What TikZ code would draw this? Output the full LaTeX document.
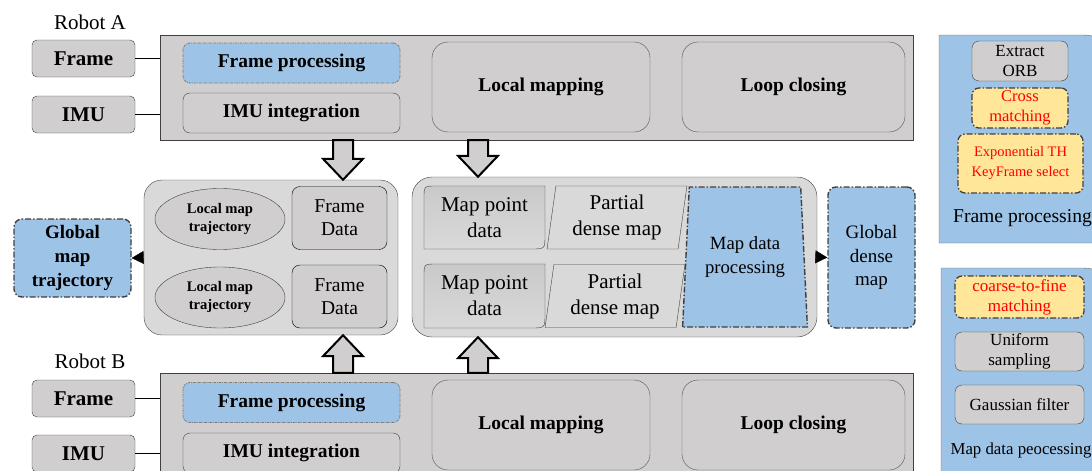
\documentclass[tikz,border=0pt]{standalone}
\usepackage{fontspec}
\setmainfont{Liberation Serif}
\usepackage{xcolor}
\usetikzlibrary{shapes.geometric, arrows.meta, positioning, calc}

\definecolor{boxgray}{HTML}{D0CECE}
\definecolor{panelgray}{HTML}{D9D9D9}
\definecolor{procblue}{HTML}{9DC3E6}
\definecolor{hiyellow}{HTML}{FFE699}
\definecolor{edgegray}{HTML}{404040}
\newcommand{\setsz}[2]{\fontsize{#1}{#2}\selectfont}

\begin{document}
\begin{tikzpicture}[
    x=1pt, y=-1pt,
    input/.style={rectangle, draw=edgegray, fill=boxgray, rounded corners=5pt, minimum width=103, minimum height=37, font=\setsz{21}{24}\bfseries},
    robot/.style={rectangle, draw=edgegray, fill=boxgray, minimum width=753, minimum height=105},
    task/.style={rectangle, draw=edgegray, fill=boxgray, rounded corners=7pt, minimum width=217, minimum height=40, font=\setsz{19.5}{22}\bfseries},
    fproc/.style={task, fill=procblue, draw=edgegray!70, line width=0.8pt, dash pattern=on 2.5pt off 1pt on 0.7pt off 1pt},
    thread/.style={rectangle, draw=edgegray!90, fill=boxgray, rounded corners=16pt, minimum height=90, font=\setsz{19.5}{22}\bfseries},
    holder/.style={rectangle, draw=edgegray, fill=panelgray, rounded corners=18pt},
    traj/.style={ellipse, draw=edgegray, fill=boxgray, minimum width=130, minimum height=61, inner sep=0pt, align=center, font=\setsz{14.6}{18}\bfseries},
    fdata/.style={rectangle, draw=black, fill=boxgray, rounded corners=8pt, minimum width=95, minimum height=63, align=center, font=\setsz{19.6}{23}},
    dashdot/.style={dash pattern=on 6pt off 2pt on 1.5pt off 2pt},
    global/.style={rectangle, draw=edgegray, fill=procblue, rounded corners=8pt, line width=1.4pt, dashdot, align=center, inner sep=1pt},
    mpcard/.style={draw=edgegray, top color=gray!42, bottom color=gray!30},
    dense/.style={trapezium, trapezium left angle=82, trapezium right angle=98, trapezium stretches=true, draw=edgegray, fill=panelgray, minimum width=140, minimum height=63, inner sep=1pt, align=center, font=\setsz{21}{26}},
    step2/.style={rectangle, draw=edgegray, fill=boxgray, rounded corners=7pt, inner sep=1pt, align=center, font=\setsz{17}{20}},
    newstep/.style={step2, fill=hiyellow, line width=1.3pt, dashdot, text=red},
    panel/.style={draw=edgegray!80, fill=procblue},
    wire/.style={draw=black, line width=1.2pt},
    tri/.style={draw=black, -{Triangle[length=12pt, width=13pt]}},
    fatarrow/.style={draw=black, line width=2pt, fill=boxgray, line join=miter, to path={
        let \p1=(\tikztostart), \p2=(\tikztotarget), \n1={sign(\y2-\y1)} in
        (\x1-10pt,\y1) -- (\x1-10pt,\y2-\n1*21pt) -- (\x1-20pt,\y2-\n1*21pt) -- (\x1,\y2)
        -- (\x1+20pt,\y2-\n1*21pt) -- (\x1+10pt,\y2-\n1*21pt) -- (\x1+10pt,\y1) -- cycle}}
]
    \useasboundingbox (0,0) rectangle (1092,471);

    % Robot A
    \node [font=\setsz{21}{24}] (labA) at (90,22) {Robot A};
    \node [robot] (robotA) at (536.5,87.5) {};
    \node [input] (frameA) at (83.5,58.5) {Frame};
    \node [input] (imuA) at (83.5,114.5) {IMU};
    \node [fproc] (fpA) at (291.5,63) {Frame processing};
    \node [task] (intA) at (291.5,113) {IMU integration};
    \node [thread, minimum width=218] (lmA) at (541,87) {Local mapping};
    \node [thread, minimum width=223] (lcA) at (793.5,87) {Loop closing};
    \draw [wire] (frameA) -- (frameA -| robotA.west);
    \draw [wire] (imuA) -- (imuA -| robotA.west);

    % Robot B
    \node [font=\setsz{21}{24}] (labB) at (90,361) {Robot B};
    \node [robot] (robotB) at (536.5,425.5) {};
    \node [input] (frameB) at (83.5,398.5) {Frame};
    \node [input] (imuB) at (83.5,453.5) {IMU};
    \node [fproc] (fpB) at (291.5,402.5) {Frame processing};
    \node [task] (intB) at (291.5,453) {IMU integration};
    \node [thread, minimum width=218] (lmB) at (541,425) {Local mapping};
    \node [thread, minimum width=223] (lcB) at (793.5,425) {Loop closing};
    \draw [wire] (frameB) -- (frameB -| robotB.west);
    \draw [wire] (imuB) -- (imuB -| robotB.west);

    % Shared trajectory data
    \node [holder, minimum width=254, minimum height=155] (midL) at (271,257.5) {};
    \node [traj] (trajA) at (220,219) {Local map\\trajectory};
    \node [traj] (trajB) at (220,297.5) {Local map\\trajectory};
    \node [fdata] (fdA) at (339.5,218) {Frame\\Data};
    \node [fdata] (fdB) at (339.5,296.5) {Frame\\Data};
    \node [global, minimum width=117, minimum height=78, font=\setsz{19}{24}\bfseries] (gmt) at (72.5,258) {Global\\map\\trajectory};
    \draw [tri] (midL.west) -- (gmt.east);

    % Shared map data
    \node [holder, rounded corners=20pt, minimum width=405, minimum height=160] (midR) at (614.5,257) {};
    \draw [mpcard, shift={(424,186)}] (0,12) .. controls (0,0) .. (12,0) -- (121,0) -- (121,49) .. controls (121,63) .. (107,63) -- (0,63) -- cycle
        node [align=center, font=\setsz{21}{26}] (mpA) at (60.5,31.5) {Map point\\data};
    \draw [mpcard, shift={(424,264)}] (0,12) .. controls (0,0) .. (12,0) -- (121,0) -- (121,50) .. controls (121,64) .. (107,64) -- (0,64) -- cycle
        node [align=center, font=\setsz{21}{26}] (mpB) at (60.5,32) {Map point\\data};
    \node [dense] (pdA) at (617,217.5) {Partial\\dense map};
    \node [dense] (pdB) at (615,296) {Partial\\dense map};
    \node [trapezium, trapezium left angle=83.5, trapezium right angle=83.5, trapezium stretches=true,
        minimum width=126, minimum height=140, inner sep=1pt, draw=edgegray, fill=procblue, line width=1.4pt, dashdot,
        align=center, font=\setsz{18.7}{24}] (mdp) at (745,257) {Map data\\processing};
    \node [global, minimum width=87, minimum height=141, font=\setsz{19}{23.5}] (gdm) at (871.5,257.5) {Global\\dense\\map};
    \draw [tri] (midR.east) -- (gdm.west);

    % Block arrows between robots and shared data
    \coordinate (colL) at (343,0);
    \coordinate (colR) at (478,0);
    \draw [fatarrow] (robotA.south -| colL) to (midL.north -| colL);
    \draw [fatarrow] (robotA.south -| colR) to (midR.north -| colR);
    \draw [fatarrow] (robotB.north -| colL) to (midL.south -| colL);
    \draw [fatarrow] (robotB.north -| colR) to (midR.south -| colR);

    % Detail panels
    \draw [panel] (939,243) -- (939,35) -- (1077,35) .. controls (1097,35) .. (1097,55) -- (1097,243) -- cycle;
    \node [step2, minimum width=96, minimum height=40] (orb) at (1020,61) {Extract\\ORB};
    \node [newstep, minimum width=96, minimum height=40, font=\setsz{16.5}{20}] (cross) at (1020,108) {Cross\\matching};
    \node [newstep, minimum width=125, minimum height=59, font=\setsz{14.5}{20}] (expo) at (1020.5,163.5) {Exponential TH\\KeyFrame select};
    \node [font=\setsz{19.6}{22}] (fpLabel) at (1022.5,218) {Frame processing};

    \draw [panel] (941,490) -- (941,268) -- (1077,268) .. controls (1097,268) .. (1097,288) -- (1097,490) -- cycle;
    \node [newstep, minimum width=129, minimum height=42] (c2f) at (1019.5,297) {coarse-to-fine\\matching};
    \node [step2, minimum width=129, minimum height=39] (unif) at (1019.5,351.5) {Uniform\\sampling};
    \node [step2, minimum width=129, minimum height=39] (gauss) at (1019.5,404.5) {Gaussian filter};
    \node [font=\setsz{16.8}{20}] (mdLabel) at (1021,450) {Map data peocessing};
\end{tikzpicture}
\end{document}
